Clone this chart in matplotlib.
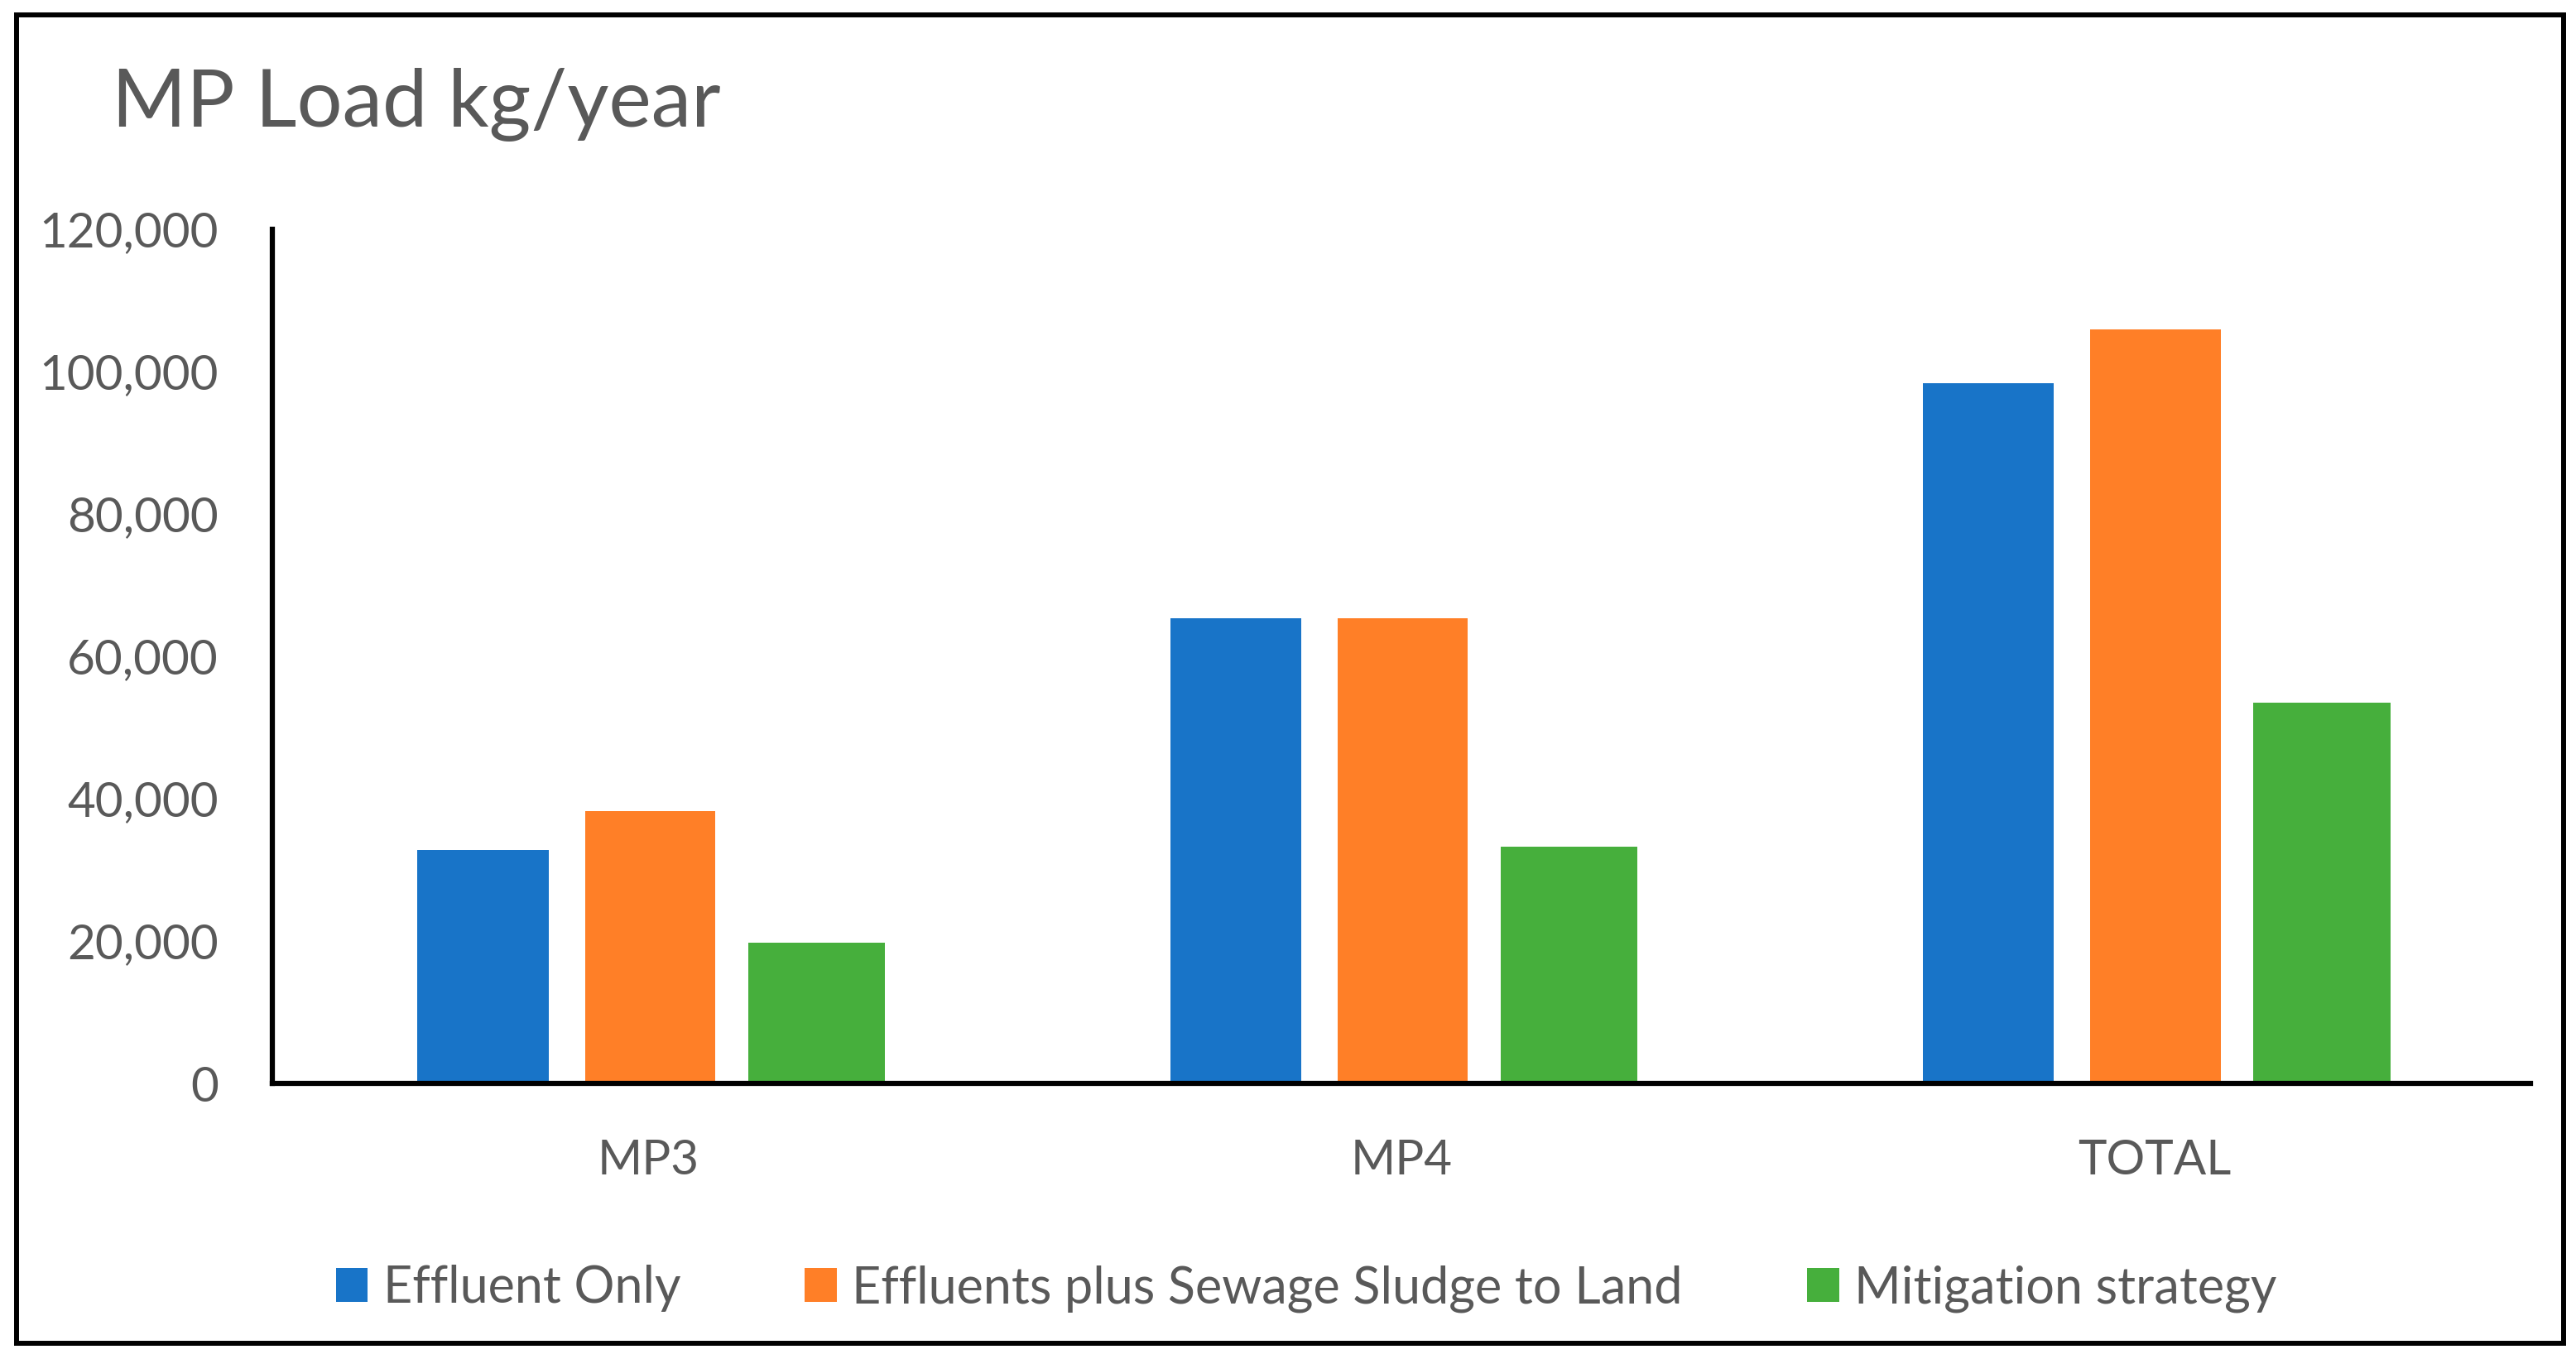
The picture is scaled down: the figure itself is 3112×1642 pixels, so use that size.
import matplotlib
matplotlib.use("Agg")
import matplotlib.pyplot as plt
from matplotlib.patches import Rectangle
from matplotlib.ticker import FuncFormatter
import numpy as np

categories = ["MP3", "MP4", "TOTAL"]
series_names = ["Effluent Only", "Effluents plus Sewage Sludge to Land", "Mitigation strategy"]
effluent_only = [32800, 65300, 98400]
effluent_sludge = [38300, 65300, 105900]
mitigation = [19800, 33200, 53500]
yticks = [0, 20000, 40000, 60000, 80000, 100000, 120000]

colors = ["#1874C8", "#FF7F27", "#46AF3C"]
offsets = [-0.220, 0.002, 0.223]
widths = [0.174, 0.173, 0.182]

plt.rcParams['font.family'] = ['Lato', 'DejaVu Sans']
gray = "#595959"

fig = plt.figure(figsize=(31.12, 16.42), dpi=100)
ax = fig.add_axes([0.1057, 0.2028, 0.9823 - 0.1057, 0.8313 - 0.2028])

x = np.arange(len(categories))
for vals, c, off, w, name in zip([effluent_only, effluent_sludge, mitigation],
                                 colors, offsets, widths, series_names):
    ax.bar(x + off, vals, width=w, color=c, label=name, zorder=2)

ax.set_xlim(-0.5, 2.5)
ax.set_ylim(0, 120000)
ax.set_yticks(yticks)
ax.yaxis.set_major_formatter(FuncFormatter(lambda v, p: f"{int(v):,}"))
ax.set_xticks(x)
ax.set_xticklabels(categories)

for s in ["top", "right"]:
    ax.spines[s].set_visible(False)
for s in ["left", "bottom"]:
    ax.spines[s].set_color("black")
    ax.spines[s].set_linewidth(4.5)
    ax.spines[s].set_zorder(3)

ax.tick_params(axis="y", length=0, pad=47, labelsize=42, labelcolor=gray)
ax.tick_params(axis="x", length=0, pad=48, labelsize=42, labelcolor=gray)

fig.text(0.0435, 1 - 153 / 1642, "MP Load kg/year", fontsize=70, color=gray,
         ha="left", va="baseline")

leg = fig.legend(loc="center", bbox_to_anchor=(1578 / 3112, 1 - 1557 / 1642),
                 ncol=3, frameon=False, fontsize=44, handlelength=0.63,
                 handleheight=0.65, handletextpad=0.3, columnspacing=2.46,
                 labelcolor=gray)

fig.patches.append(Rectangle((20 / 3112, 1 - 1623 / 1642),
                             (3097 - 20) / 3112, (1623 - 18) / 1642,
                             transform=fig.transFigure, fill=False,
                             edgecolor="black", linewidth=4.3))

fig.savefig("out.png", dpi=100, facecolor="white")
